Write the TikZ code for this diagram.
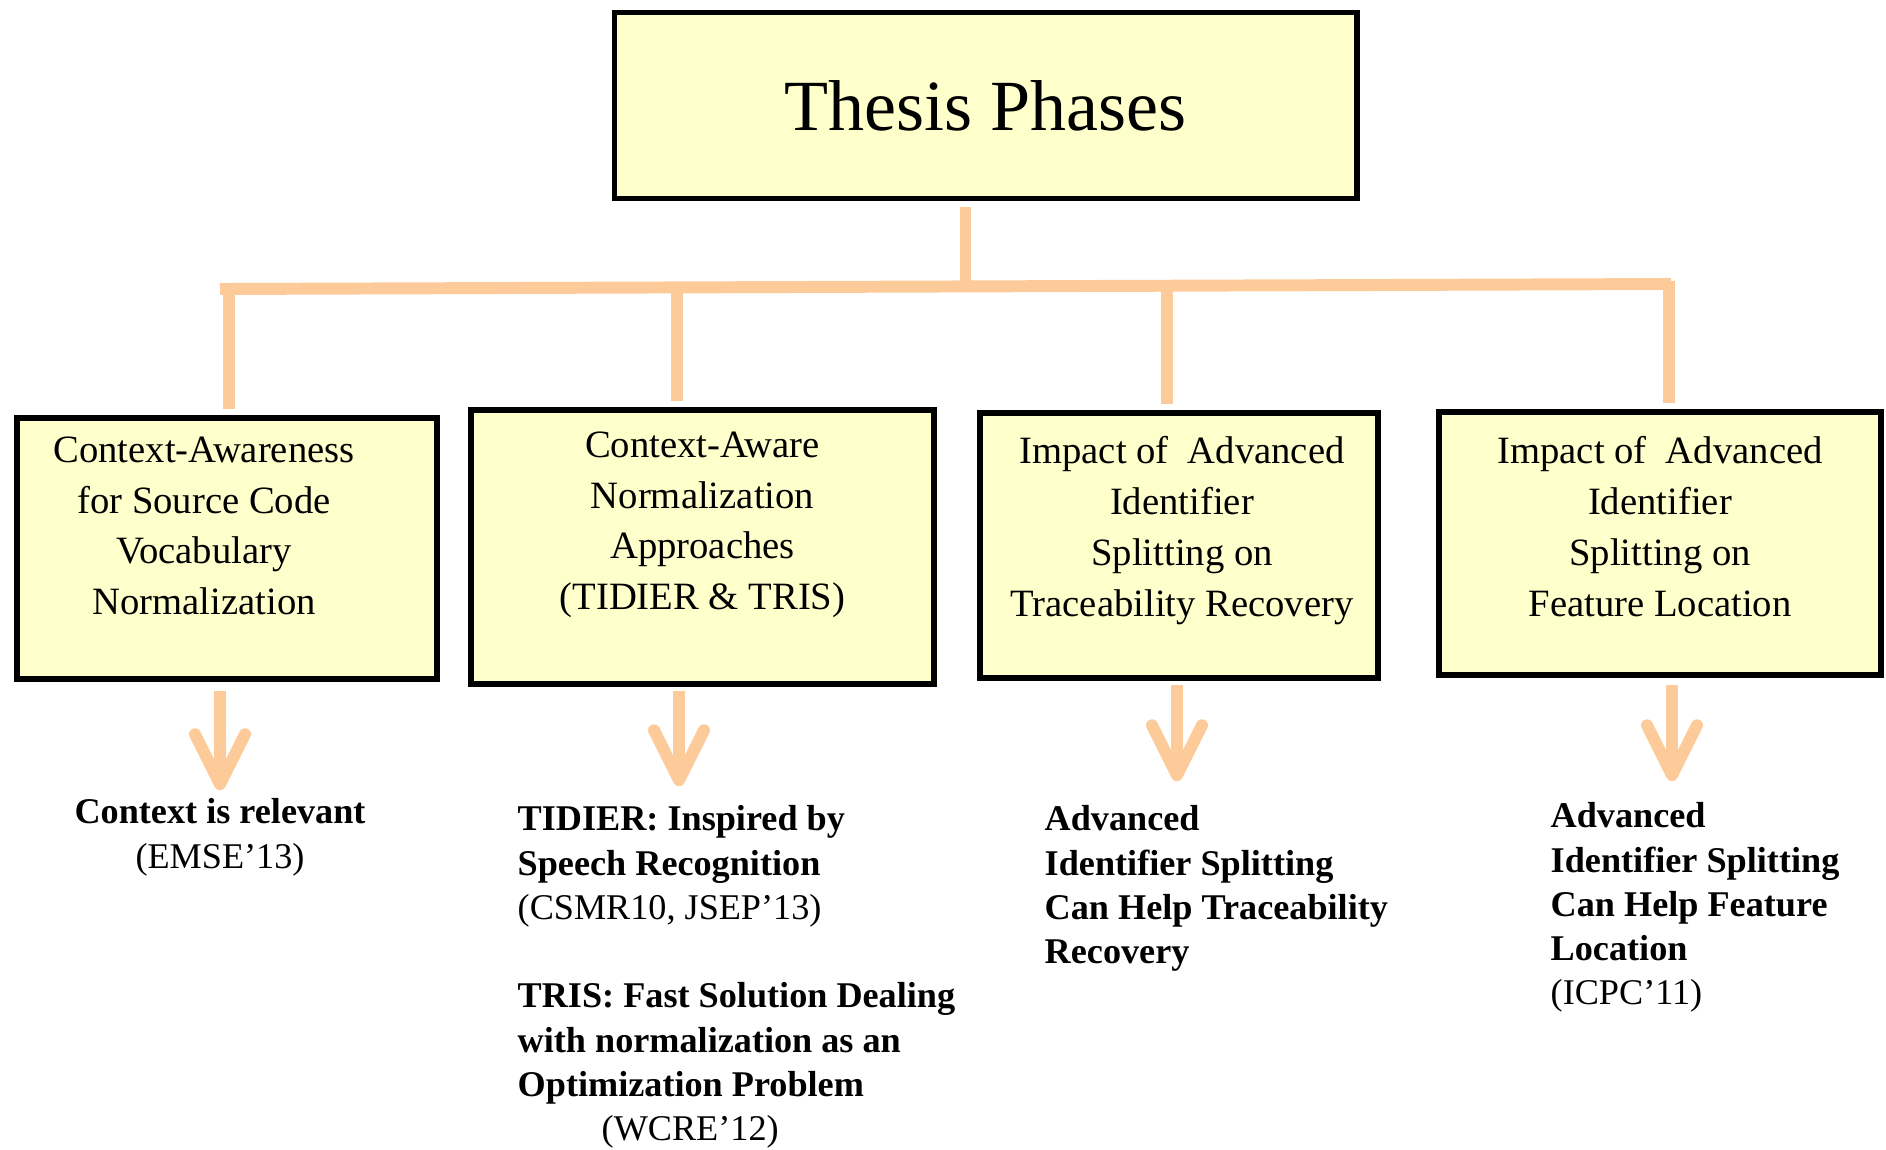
\documentclass[tikz,border=0pt]{standalone}
\usepackage{fontspec}
\setmainfont{Liberation Serif}
\usetikzlibrary{arrows.meta}
\definecolor{peach}{RGB}{253,203,153}
\definecolor{paleyellow}{RGB}{255,255,204}

\begin{document}
\begin{tikzpicture}[
  phase/.style={draw,line width=1.7pt,fill=paleyellow},
  phasetext/.style={align=center,inner sep=0pt,anchor=north,font=\fontsize{11}{14.5}\selectfont},
  link/.style={draw=peach,line width=3.4pt},
  flow/.style={peach,line width=3.4pt,-{Straight Barb[length=5mm,width=5mm,round]}},
  result/.style={inner sep=0pt,font=\fontsize{10.3}{12.6}\selectfont\bfseries}]
  \useasboundingbox (0,0) rectangle (18.86,-11.49);
  % root box
  \node[phase,minimum width=7.42cm,minimum height=1.86cm,font=\fontsize{20.5}{24}\selectfont] (top) at (9.855,-1.055) {Thesis Phases};
  % the four phases
  \node[phase,minimum width=4.205cm,minimum height=2.615cm] (ctx) at (2.27,-5.485) {};
  \node[phase,minimum width=4.635cm,minimum height=2.745cm] (norm) at (7.025,-5.47) {};
  \node[phase,minimum width=3.985cm,minimum height=2.655cm] (trace) at (11.79,-5.455) {};
  \node[phase,minimum width=4.425cm,minimum height=2.635cm] (feat) at (16.60,-5.435) {};
  \node[phasetext,xshift=-2.3mm,yshift=-2.1mm] (ctxtxt) at (ctx.north) {Context-Awareness\\for Source Code\\Vocabulary\\Normalization};
  \node[phasetext,yshift=-2.4mm] (normtxt) at (norm.north) {Context-Aware\\Normalization\\Approaches\\(TIDIER \& TRIS)};
  \node[phasetext,xshift=0.3mm,yshift=-2.6mm] (tracetxt) at (trace.north) {Impact of\ \ Advanced\\Identifier\\Splitting on\\Traceability Recovery};
  \node[phasetext,yshift=-2.7mm] (feattxt) at (feat.north) {Impact of\ \ Advanced\\Identifier\\Splitting on\\Feature Location};
  % tree connectors
  \coordinate (barL) at (2.20,-2.89);
  \coordinate (barR) at (16.71,-2.84);
  \coordinate (hub) at (9.655,-2.865);
  \draw[link] (barL) -- (barR);
  \draw[link,shorten <=0.6mm] (top.south -| hub) -- (hub);
  \draw[link,shorten <=0.6mm] ([xshift=0.2mm]ctx.north) -- ++(0,1.29);
  \draw[link,shorten <=0.6mm] ([xshift=-2.55mm]norm.north) -- ++(0,1.22);
  \draw[link,shorten <=0.6mm] ([xshift=-1.2mm]trace.north) -- ++(0,1.27);
  \draw[link,shorten <=0.6mm] ([xshift=0.9mm]feat.north) -- ++(0,1.28);
  % outcome arrows
  \draw[flow] ([xshift=-0.7mm,yshift=-0.9mm]ctx.south) -- ++(0,-0.99);
  \draw[flow] ([xshift=-2.35mm,yshift=-0.4mm]norm.south) -- ++(0,-0.95);
  \draw[flow] ([xshift=-0.2mm,yshift=-0.4mm]trace.south) -- ++(0,-0.96);
  \draw[flow] ([xshift=1.2mm,yshift=-0.7mm]feat.south) -- ++(0,-0.96);
  % outcomes
  \node[result,anchor=north,align=center] (ctxres) at (2.20,-7.98) {Context is relevant\\{\mdseries (EMSE'13)}};
  \node[result,anchor=north west,align=left] (normres) at (5.17,-8.05) {TIDIER: Inspired by\\Speech Recognition\\{\mdseries (CSMR10, JSEP'13)}\\[12.6pt]TRIS: Fast Solution Dealing\\with normalization as an\\Optimization Problem\\\hspace*{0.84cm}{\mdseries (WCRE'12)}};
  \node[result,anchor=north west,align=left] (traceres) at (10.44,-8.05) {Advanced\\Identifier Splitting\\Can Help Traceability\\Recovery};
  \node[result,anchor=north west,align=left] (featres) at (15.50,-8.02) {Advanced\\Identifier Splitting\\Can Help Feature\\Location\\{\mdseries (ICPC'11)}};
\end{tikzpicture}
\end{document}
